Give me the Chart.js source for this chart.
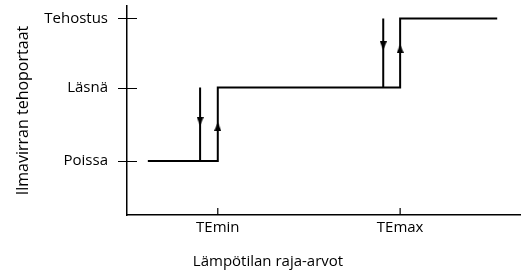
<!DOCTYPE html>
<html>
<head>
<meta charset="utf-8">
<script src="https://cdn.jsdelivr.net/npm/chart.js@4"></script>
<style>
  body { margin: 0; background: #fff; }
  #wrap { width: 526px; height: 271px; }
</style>
</head>
<body>
<div id="wrap"><canvas id="myChart"></canvas></div>
<script>
// levels on the y axis
const levelValues = [0, 1, 1.94];
const levelLabels = ['Poissa', 'Läsnä', 'Tehostus'];
// x tick positions and labels
const xTickValues = [23.1, 69.5];
const xTickLabels = ['TEmin', 'TEmax'];

// rising path (heating up)
const riseX = [5.3, 23.1, 23.1, 69.5, 69.5, 94.2];
const riseY = [0, 0, 1, 1, 1.94, 1.94];
// falling edges (cooling down)
const fallLowX = [18.6, 18.6];
const fallLowY = [1, 0];
const fallHighX = [65.2, 65.2];
const fallHighY = [1.94, 1];

// arrow heads
const downArrowX = [18.6, 65.2];
const downArrowY = [0.54, 1.57];
const upArrowX = [23.1, 69.5];
const upArrowY = [0.47, 1.53];

const toPoints = (xs, ys) => xs.map((x, i) => ({ x: x, y: ys[i] }));

function arrowImage(up) {
  const c = document.createElement('canvas');
  c.width = 7; c.height = 9;
  const g = c.getContext('2d');
  g.fillStyle = '#000';
  g.beginPath();
  if (up) {
    g.moveTo(3.5, 0); g.lineTo(7, 9); g.lineTo(0, 9);
  } else {
    g.moveTo(0, 0); g.lineTo(7, 0); g.lineTo(3.5, 9);
  }
  g.closePath();
  g.fill();
  return c;
}

const font = { family: 'Open Sans', size: 15 };

// draws the small tick crosses on both axes
const tickMarks = {
  id: 'tickMarks',
  afterDraw(chart) {
    const ctx = chart.ctx;
    const xs = chart.scales.x, ys = chart.scales.y;
    ctx.save();
    ctx.strokeStyle = '#000';
    ctx.lineWidth = 1.2;
    ctx.beginPath();
    levelValues.forEach(v => {
      const py = Math.round(ys.getPixelForValue(v)) + 0.5;
      ctx.moveTo(xs.left - 9, py);
      ctx.lineTo(xs.left + 10, py);
    });
    xTickValues.forEach(v => {
      const px = xs.getPixelForValue(v);
      ctx.moveTo(px, ys.bottom);
      ctx.lineTo(px, ys.bottom - 7);
    });
    ctx.stroke();
    ctx.restore();
  }
};

const lineStyle = {
  showLine: true,
  borderColor: '#000',
  borderWidth: 2,
  pointRadius: 0,
  fill: false
};

new Chart(document.getElementById('myChart'), {
  type: 'scatter',
  data: {
    datasets: [
      Object.assign({ data: toPoints(riseX, riseY) }, lineStyle),
      Object.assign({ data: toPoints(fallLowX, fallLowY) }, lineStyle),
      Object.assign({ data: toPoints(fallHighX, fallHighY) }, lineStyle),
      { data: toPoints(downArrowX, downArrowY), pointStyle: arrowImage(false), pointRadius: 5 },
      { data: toPoints(upArrowX, upArrowY), pointStyle: arrowImage(true), pointRadius: 5 }
    ]
  },
  options: {
    responsive: true,
    maintainAspectRatio: false,
    animation: false,
    layout: { padding: { left: 14, right: 4, top: 5, bottom: 0 } },
    plugins: {
      legend: { display: false },
      tooltip: { enabled: false },
      title: {
        display: true,
        position: 'bottom',
        text: 'Lämpötilan raja-arvot',
        color: '#000',
        font: { family: 'Open Sans', size: 15, weight: 'normal' },
        padding: { top: 0, bottom: 0 }
      }
    },
    scales: {
      x: {
        type: 'linear',
        min: 0,
        max: 100,
        afterFit: s => { s.height = 38; s.paddingLeft = 0; s.paddingRight = 0; },
        afterBuildTicks: s => { s.ticks = xTickValues.map(v => ({ value: v })); },
        ticks: {
          color: '#000',
          font: font,
          padding: 4,
          autoSkip: false,
          maxRotation: 0,
          callback: v => xTickLabels[xTickValues.indexOf(v)]
        },
        grid: { display: false, drawTicks: false },
        border: { display: true, color: '#000', width: 1.5 }
      },
      y: {
        min: -0.735,
        max: 2.11,
        afterFit: s => { s.width = 113; s.paddingTop = 0; s.paddingBottom = 0; },
        afterBuildTicks: s => { s.ticks = levelValues.map(v => ({ value: v })); },
        ticks: {
          color: '#000',
          font: font,
          padding: 19,
          callback: v => levelLabels[levelValues.indexOf(v)]
        },
        grid: { display: false, drawTicks: false },
        border: { display: true, color: '#000', width: 1.5 },
        title: {
          display: true,
          text: 'Ilmavirran tehoportaat',
          color: '#000',
          font: { family: 'Open Sans', size: 16 },
          padding: { top: 0, bottom: 0 }
        }
      }
    }
  },
  plugins: [tickMarks]
});
</script>
</body>
</html>
